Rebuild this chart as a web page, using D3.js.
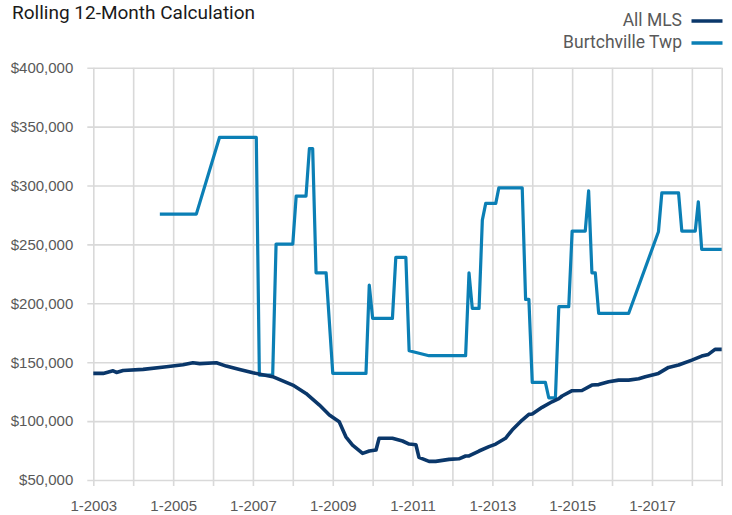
<!DOCTYPE html>
<html>
<head>
<meta charset="utf-8">
<script src="https://cdn.jsdelivr.net/npm/d3@7"></script>
<style>
  body { margin: 0; background: #fff; }
  svg { font-family: Roboto, "Liberation Sans", sans-serif; }
</style>
</head>
<body>
<svg width="732" height="515"></svg>
<script>
// All MLS, rolling 12-month
const mlsMonths = ["2003-01","2003-04","2003-07","2003-08","2003-10","2004-04","2004-11","2005-04","2005-07","2005-09",
  "2006-02","2006-05","2006-09","2007-01","2007-07","2008-01","2008-05","2008-09","2008-12","2009-03",
  "2009-05","2009-07","2009-10","2009-12","2010-02","2010-03","2010-07","2010-10","2010-12","2011-02",
  "2011-03","2011-06","2011-08","2011-12","2012-03","2012-05","2012-06","2012-09","2012-12","2013-02",
  "2013-05","2013-07","2013-10","2013-12","2014-01","2014-04","2014-07","2014-09","2014-10","2015-01",
  "2015-04","2015-07","2015-09","2015-12","2016-03","2016-06","2016-09","2016-11","2017-03","2017-06",
  "2017-09","2018-01","2018-04","2018-06","2018-08","2018-10"];
const mlsValues = [140500,140500,142700,141300,143000,143900,146100,147800,149500,148800,
  149500,146700,143900,141000,137700,130600,123500,113600,105200,99500,
  86700,79700,72600,74600,75500,85400,85400,83100,80500,79900,
  69200,65800,65800,67500,68000,70400,70400,74600,78300,80500,
  85400,92400,100900,105700,106000,111700,116400,119000,121300,125800,
  126000,130600,131000,133400,134800,134800,136000,137700,140500,145600,
  147600,151800,155200,156600,160900,160900];

// Burtchville Twp
const twpMonths = ["2004-09","2005-08","2006-03","2007-02","2007-03","2007-07","2007-08","2008-01","2008-02","2008-05",
  "2008-06","2008-07","2008-08","2008-11","2009-01","2009-11","2009-12","2010-01","2010-07","2010-08",
  "2010-11","2010-12","2011-06","2012-05","2012-06","2012-07","2012-09","2012-10","2012-11","2013-02",
  "2013-03","2013-10","2013-11","2013-12","2014-01","2014-05","2014-06","2014-08","2014-09","2014-12",
  "2015-01","2015-05","2015-06","2015-07","2015-08","2015-09","2016-06","2017-03","2017-04","2017-09",
  "2017-10","2018-02","2018-03","2018-04","2018-10"];
const twpValues = [275700,275700,340800,340800,139100,139100,250200,250200,291000,291000,
  331400,331400,225900,225900,140500,140500,215500,187200,187200,239000,
  239000,159700,155500,155500,225900,195700,195700,270600,284800,284800,
  298000,298000,203300,203300,132900,132900,119800,119800,197100,197100,
  261300,261300,295500,225900,225900,191400,191400,260700,293800,293800,
  261300,261300,286200,245700,245700];

const yTicks = [50000,100000,150000,200000,250000,300000,350000,400000];
const gridYears = d3.range(2003, 2019);
const labelYears = [2003,2005,2007,2009,2011,2013,2015,2017];
const seriesNames = ["All MLS", "Burtchville Twp"];
const seriesColors = ["#0a376a", "#0b7fb5"];

const parseMonth = d3.timeParse("%Y-%m");
const svg = d3.select("svg");

const plotLeft = 93.3, plotRight = 721.7, plotTop = 67.7, plotBottom = 480;

const x = d3.scaleTime()
  .domain([parseMonth("2003-01"), parseMonth("2018-10")])
  .range([plotLeft, plotRight]);
const y = d3.scaleLinear()
  .domain([50000, 400000])
  .range([plotBottom, plotTop]);

// horizontal grid + y labels
const yAxis = svg.append("g")
  .attr("transform", `translate(${plotLeft - 6},0)`)
  .call(d3.axisLeft(y)
    .tickValues(yTicks)
    .tickSize(-(plotRight - plotLeft + 6))
    .tickPadding(14)
    .tickFormat(d => "$" + d3.format(",")(d)));
yAxis.select(".domain").remove();
yAxis.selectAll("line").attr("stroke", "#d9d9d9").attr("stroke-width", 1.6);
yAxis.selectAll("text").attr("fill", "#595959").style("font-size", "15px");

// vertical grid + x labels
const xGridDates = gridYears.map(yr => new Date(yr, 0, 1)).concat([parseMonth("2018-10")]);
const xAxis = svg.append("g")
  .attr("transform", `translate(0,${plotBottom + 6})`)
  .call(d3.axisBottom(x)
    .tickValues(xGridDates)
    .tickSize(-(plotBottom + 6 - plotTop))
    .tickPadding(14)
    .tickFormat(d => labelYears.includes(d.getFullYear()) && d.getMonth() === 0 ? "1-" + d.getFullYear() : ""));
xAxis.select(".domain").remove();
xAxis.selectAll("line").attr("stroke", "#d9d9d9").attr("stroke-width", 1.6);
xAxis.selectAll("text").attr("fill", "#595959").style("font-size", "15px");

// lines
const line = d3.line()
  .x(d => x(d.date))
  .y(d => y(d.value));

const mlsData = mlsMonths.map((m, i) => ({date: parseMonth(m), value: mlsValues[i]}));
const twpData = twpMonths.map((m, i) => ({date: parseMonth(m), value: twpValues[i]}));

svg.append("path")
  .datum(twpData)
  .attr("fill", "none")
  .attr("stroke", seriesColors[1])
  .attr("stroke-width", 3.2)
  .attr("stroke-linejoin", "round")
  .attr("d", line);

svg.append("path")
  .datum(mlsData)
  .attr("fill", "none")
  .attr("stroke", seriesColors[0])
  .attr("stroke-width", 3.6)
  .attr("stroke-linejoin", "round")
  .attr("d", line);

// title
svg.append("text")
  .attr("x", 12)
  .attr("y", 18.5)
  .attr("fill", "#1a1a1a")
  .style("font-size", "19px")
  .text("Rolling 12-Month Calculation");

// legend
const legend = svg.append("g")
  .selectAll("g")
  .data(seriesNames)
  .enter()
  .append("g")
  .attr("transform", (d, i) => `translate(0,${21 + i * 22})`);

legend.append("line")
  .attr("x1", 691.5)
  .attr("x2", 722.5)
  .attr("stroke", (d, i) => seriesColors[i])
  .attr("stroke-width", 3.5);

legend.append("text")
  .attr("x", 682)
  .attr("y", 5)
  .attr("text-anchor", "end")
  .attr("fill", "#595959")
  .style("font-size", "17.5px")
  .text(d => d);
</script>
</body>
</html>
